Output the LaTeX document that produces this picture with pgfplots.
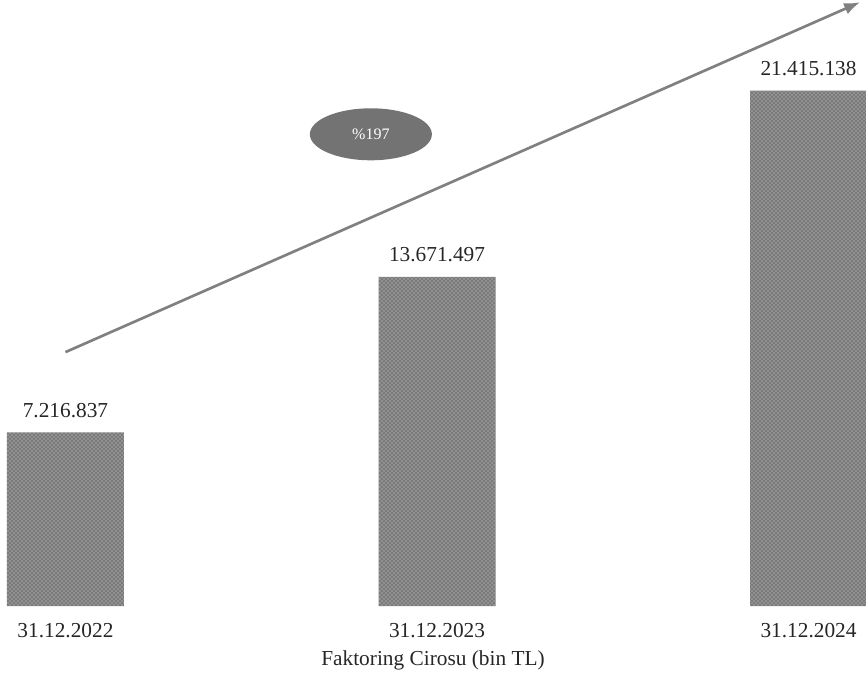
\documentclass[border=0pt]{standalone}
\usepackage{pgfplots}
\pgfplotsset{compat=1.18}
\usepackage{pgfplotstable}
\usepackage{fontspec}
\setmainfont{Liberation Serif}
\usetikzlibrary{patterns,arrows.meta,shapes.geometric}

\pgfplotstableread[col sep=comma]{
x,y,lab
0,7216837,7.216.837
1,13671497,13.671.497
2,21415138,21.415.138
}\datatable

\begin{document}
\begin{tikzpicture}
\begin{axis}[
  at={(0,0)}, anchor=south west,
  scale only axis,
  width=649.5pt, height=454.5pt,
  xmin=-0.1763, xmax=2.1548,
  ymin=0, ymax=25180000,
  axis line style={draw=none},
  tick style={draw=none},
  ytick=\empty,
  xtick={0,1,2},
  xticklabels={31.12.2022,31.12.2023,31.12.2024},
  xticklabel style={anchor=center, yshift=-18.75pt, font=\fontsize{16}{19}\selectfont, text=black!85},
  xlabel={Faktoring Cirosu (bin TL)},
  xlabel style={at={(axis description cs:0.5,0)}, anchor=center, yshift=-40.5pt, font=\fontsize{16}{19}\selectfont, text=black!85},
  clip=false,
  scaled y ticks=false,
  nodes near coords,
  point meta=explicit symbolic,
  every node near coord/.append style={anchor=center, yshift=16.5pt, font=\fontsize{16}{19}\selectfont, text=black!85},
]
\addplot[ybar, bar width=87.75pt, fill=black!52, draw=none,
  postaction={pattern=crosshatch dots, pattern color=white!75!gray}]
  table[x=x, y=y, meta=lab] {\datatable};
\draw[black!50, line width=2pt, -{Latex[length=12pt,width=9pt]}]
  (axis cs:0,10550000) -- (axis cs:2.139,25090000);
\node[ellipse, fill=black!55, minimum width=91.5pt, minimum height=39pt, inner sep=0pt,
  text=white, font=\fontsize{12}{14}\selectfont]
  at (axis cs:0.822,19600000) {\%197};
\end{axis}
\pgfresetboundingbox
\path (0,-57.75pt) rectangle (649.5pt,454.5pt);
\end{tikzpicture}
\end{document}
